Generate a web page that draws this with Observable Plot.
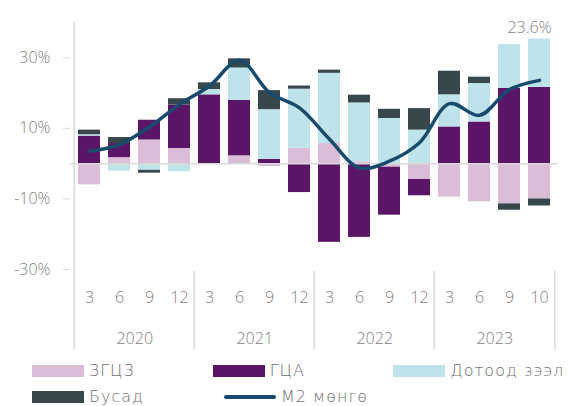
<!DOCTYPE html>
<html>
<head>
<meta charset="utf-8">
<script src="https://cdn.jsdelivr.net/npm/d3@7"></script>
<script src="https://cdn.jsdelivr.net/npm/@observablehq/plot@0.6"></script>
<style>
  html, body { margin: 0; padding: 0; background: #fff; }
  #chart { width: 574px; height: 406px; position: relative; font-family: "Open Sans", sans-serif; font-weight: 300; }
  .legend { position: relative; margin-top: 9px; }
  .lrow { display: flex; height: 25.5px; align-items: flex-start; }
  .litem { width: 192px; display: flex; align-items: center; height: 12px; font-size: 16px; color: #6f6f6f; white-space: nowrap; }
  .litem:first-child { margin-left: 32px; }
  .sw { width: 52px; height: 12px; margin-right: 5px; flex: none; }
  .swl { width: 52px; height: 4px; border-radius: 2px; margin-right: 5px; flex: none; }
  .litem span { line-height: 16px; font-family: "DejaVu Sans", sans-serif; font-weight: 200; font-size: 16px; letter-spacing: 1px; }
</style>
</head>
<body>
<div id="chart"></div>
<script>
// Categories
const years  = [2020, 2020, 2020, 2020, 2021, 2021, 2021, 2021, 2022, 2022, 2022, 2022, 2023, 2023, 2023, 2023];
const months = [3, 6, 9, 12, 3, 6, 9, 12, 3, 6, 9, 12, 3, 6, 9, 10];
const yearLabels = [2020, 2021, 2022, 2023];

// Series (contributions, %)
const seriesNames = ["ЗГЦЗ", "ГЦА", "Дотоод зээл", "Бусад"];
const zgcz   = [-6.0, 1.7, 6.7, 4.3, 0, 2.2, -0.8, 4.4, 5.7, 0.5, -1.0, -4.5, -9.5, -10.8, -11.4, -10.0];
const gca    = [7.8, 4.0, 5.6, 12.3, 19.5, 15.7, 1.2, -8.2, -22.3, -20.9, -13.6, -4.6, 10.4, 11.8, 21.3, 21.6];
const dotood = [0.4, -2.1, -1.9, -2.3, 1.5, 9.2, 14.1, 16.7, 19.9, 16.7, 12.8, 9.5, 9.1, 10.9, 12.5, 13.7];
const busad  = [1.3, 1.7, -0.8, 1.8, 1.9, 2.6, 5.4, 0.9, 0.9, 2.2, 2.6, 6.1, 6.7, 1.8, -1.8, -2.0];
const m2     = [3.5, 5.4, 10.4, 16.8, 22.0, 29.3, 20.1, 15.8, 6.9, -1.2, 0.7, 5.9, 17.0, 13.7, 21.0, 23.6];
const m2Name = "M2 мөнгө";

const yTicks = [-30, -10, 10, 30];
const colors = ["#dcbdd7", "#5b1567", "#bee3ea", "#37474c"];
const lineColor = "#174a6c";

const cats = years.map((y, i) => `${y}-${months[i]}`);
const seriesValues = [zgcz, gca, dotood, busad];
const rows = [];
seriesNames.forEach((s, si) => cats.forEach((c, i) => rows.push({cat: c, series: s, value: seriesValues[si][i]})));
const m2rows = cats.map((c, i) => ({cat: c, value: m2[i]}));
const lastM2 = m2rows[m2rows.length - 1];

const W = 574, H = 356, mt = 22, mb = 87, ml = 70, mr = 16;
const step = (W - ml - mr) / cats.length;
const yearFirst = yearLabels.map(y => ({year: y, cat: cats[years.indexOf(y)]}));
const yearMidCat = yearLabels.map(y => ({year: y, cat: cats[years.indexOf(y) + 1]}));
const plotH = H - mt - mb;

const chart = Plot.plot({
  width: W, height: H,
  marginTop: mt, marginBottom: mb, marginLeft: ml, marginRight: mr,
  style: {fontFamily: "'Open Sans', sans-serif", fontWeight: 300, fontSize: "16px", color: "#7f7f7f", background: "#fff", overflow: "visible"},
  x: {domain: cats, paddingInner: 0.28, paddingOuter: 0.14, axis: null},
  y: {domain: [-30, 40], axis: null},
  color: {domain: seriesNames, range: colors},
  marks: [
    Plot.barY(rows, Plot.stackY({x: "cat", y: "value", fill: "series"})),
    Plot.ruleY([0], {stroke: "#d9d9d9", strokeWidth: 1.5}),
    Plot.line(m2rows, {x: "cat", y: "value", stroke: lineColor, strokeWidth: 3.5, curve: "catmull-rom", strokeLinecap: "round"}),
    Plot.text([lastM2], {x: "cat", text: d => d.value.toFixed(1) + "%", frameAnchor: "top", lineAnchor: "middle", dy: 5, dx: -10, fill: "#7f7f7f", fontSize: 16}),
    Plot.axisY({ticks: yTicks, tickSize: 7, tickPadding: 13, tickFormat: d => d + "%", stroke: "#d9d9d9", fill: "#7f7f7f", fontSize: 16, label: null}),
    Plot.axisX({tickSize: 0, tickPadding: 22, tickFormat: c => c.split("-")[1], fill: "#7f7f7f", fontSize: 16, label: null}),
    Plot.text(yearMidCat, {x: "cat", text: d => String(d.year), frameAnchor: "bottom", lineAnchor: "middle", dx: step / 2, dy: 69, fill: "#7f7f7f", fontSize: 16}),
    // left axis line
    Plot.ruleX([yearFirst[0]], {x: "cat", dx: -step / 2, stroke: "#d9d9d9", strokeWidth: 1.5, insetBottom: -80}),
    // year separators
    Plot.ruleX(yearFirst.slice(1), {x: "cat", dx: -step / 2, stroke: "#d9d9d9", strokeWidth: 1.5, insetTop: plotH + 2, insetBottom: -80}),
    Plot.ruleX([{cat: cats[cats.length - 1]}], {x: "cat", dx: step / 2, stroke: "#d9d9d9", strokeWidth: 1.5, insetTop: plotH + 2, insetBottom: -80})
  ]
});
document.getElementById("chart").appendChild(chart);

// Legend
const legend = document.createElement("div");
legend.className = "legend";
const items = seriesNames.map((s, i) => ({name: s, color: colors[i], type: "bar"}));
items.push({name: m2Name, color: lineColor, type: "line"});
const rowsL = [items.slice(0, 3), items.slice(3)];
rowsL.forEach(r => {
  const row = document.createElement("div");
  row.className = "lrow";
  r.forEach(it => {
    const el = document.createElement("div");
    el.className = "litem";
    const sw = document.createElement("div");
    sw.className = it.type === "bar" ? "sw" : "swl";
    sw.style.background = it.color;
    const t = document.createElement("span");
    t.textContent = it.name;
    el.appendChild(sw); el.appendChild(t);
    row.appendChild(el);
  });
  legend.appendChild(row);
});
document.getElementById("chart").appendChild(legend);
</script>
</body>
</html>
